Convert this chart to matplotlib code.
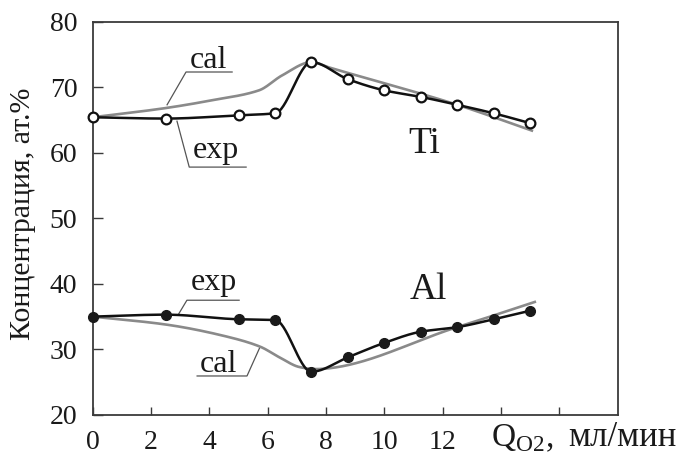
import numpy as np
import matplotlib
matplotlib.use("Agg")
import matplotlib.pyplot as plt

plt.rcParams['font.family'] = ['Liberation Serif', 'DejaVu Serif']
plt.rcParams['mathtext.fontset'] = 'custom'
plt.rcParams['mathtext.rm'] = 'Liberation Serif'

# ---- data ----
x_exp = [0, 2.5, 5, 6.25, 7.5, 8.75, 10, 11.25, 12.5, 13.75, 15]
ti_exp = [65.4, 65.2, 65.7, 66.0, 73.8, 71.2, 69.5, 68.5, 67.3, 66.0, 64.5]
al_exp = [35.0, 35.3, 34.6, 34.5, 26.6, 28.8, 31.0, 32.7, 33.4, 34.6, 35.9]

ti_cal_x = [0, 2.5, 4.1, 5.7, 6.5, 7.5, 8.1, 12.5, 15.1]
ti_cal_y = [65.4, 66.8, 68.0, 69.5, 71.8, 73.8, 73.0, 67.3, 63.3]
al_cal_x = [0, 2.5, 4.65, 5.75, 6.4, 7.1, 7.6, 12.5, 15.2]
al_cal_y = [35.0, 33.8, 31.9, 30.4, 28.8, 27.3, 27.0, 33.4, 37.3]

x_ticks = [0, 2, 4, 6, 8, 10, 12, 14, 16]
x_ticklabels = ['0', '2', '4', '6', '8', '10', '12', '', '']
y_ticks = [20, 30, 40, 50, 60, 70, 80]


def pchip(x, y, n=400):
    x = np.asarray(x, float)
    y = np.asarray(y, float)
    h = np.diff(x)
    d = np.diff(y) / h
    m = np.zeros_like(y)
    for k in range(1, len(x) - 1):
        if d[k - 1] * d[k] <= 0:
            m[k] = 0.0
        else:
            w1 = 2 * h[k] + h[k - 1]
            w2 = h[k] + 2 * h[k - 1]
            m[k] = (w1 + w2) / (w1 / d[k - 1] + w2 / d[k])
    m[0] = d[0]
    m[-1] = d[-1]
    xs = np.linspace(x[0], x[-1], n)
    idx = np.clip(np.searchsorted(x, xs) - 1, 0, len(x) - 2)
    t = (xs - x[idx]) / h[idx]
    h00 = 2 * t**3 - 3 * t**2 + 1
    h10 = t**3 - 2 * t**2 + t
    h01 = -2 * t**3 + 3 * t**2
    h11 = t**3 - t**2
    ys = h00 * y[idx] + h10 * h[idx] * m[idx] + h01 * y[idx + 1] + h11 * h[idx] * m[idx + 1]
    return xs, ys


fig = plt.figure(figsize=(6.81, 4.59), dpi=100)
ax = fig.add_axes([92.7 / 681, 1 - 415 / 459, (617.7 - 92.7) / 681, (415 - 21.5) / 459])

gray = '#8a8a8a'
black = '#111111'

# calculated curves
for cx, cy in [(ti_cal_x, ti_cal_y), (al_cal_x, al_cal_y)]:
    xs, ys = pchip(cx, cy)
    ax.plot(xs, ys, color=gray, lw=1.9, zorder=2, solid_capstyle='butt')

# experimental curves
xs, ys = pchip(x_exp, ti_exp)
ax.plot(xs, ys, color=black, lw=1.8, zorder=3)
ax.plot(x_exp, ti_exp, 'o', ms=7, mfc='white', mec=black, mew=1.6, zorder=4, clip_on=False)
xs, ys = pchip(x_exp, al_exp)
ax.plot(xs, ys, color=black, lw=1.8, zorder=3)
ax.plot(x_exp, al_exp, 'o', ms=7, mfc='#1a1a1a', mec='#1a1a1a', mew=1.0, zorder=4, clip_on=False)

ax.set_xlim(0, 18)
ax.set_ylim(20, 80)
ax.set_xticks(x_ticks)
ax.set_xticklabels(x_ticklabels)
ax.set_yticks(y_ticks)
ax.set_yticklabels([str(v) for v in y_ticks])

spc = '#3a3a3a'
for s in ax.spines.values():
    s.set_color(spc)
    s.set_linewidth(1.3)
ax.tick_params(axis='both', direction='in', colors=spc, labelcolor='#1a1a1a',
               labelsize=20, width=1.0)
ax.tick_params(axis='y', length=7, pad=11)
ax.tick_params(axis='x', length=6, pad=11)

# annotations with leader lines
lc = '#555555'
llw = 0.9
txt_kw = dict(fontsize=23, color='#1a1a1a', ha='center', va='baseline')

# Ti cal
ax.text(3.96, 72.9, 'cal', **txt_kw)
ax.plot([2.55, 3.2, 4.78], [67.3, 72.3, 72.3], color=lc, lw=llw, zorder=1)
# Ti exp
ax.text(4.23, 59.2, 'exp', **txt_kw)
ax.plot([2.89, 3.31, 5.26], [64.8, 57.8, 57.8], color=lc, lw=llw, zorder=1)
# Al exp
ax.text(4.16, 39.05, 'exp', **txt_kw)
ax.plot([2.92, 3.23, 5.02], [35.2, 37.5, 37.5], color=lc, lw=llw, zorder=1)
# Al cal
ax.text(4.30, 26.55, 'cal', **txt_kw)
ax.plot([3.58, 5.29, 5.74], [25.95, 25.95, 30.4], color=lc, lw=llw, zorder=1)

ax.text(11.36, 59.9, 'Ti', fontsize=27, color='#1a1a1a', ha='center', va='baseline')
ax.text(11.51, 37.7, 'Al', fontsize=27, color='#1a1a1a', ha='center', va='baseline')

fig.text(491 / 681, 1 - 446 / 459, r'Q$_{\mathrm{O2}}$', fontsize=24,
         color='#1a1a1a', ha='left', va='baseline')
fig.text(546 / 681, 1 - 446 / 459, ',', fontsize=24,
         color='#1a1a1a', ha='left', va='baseline')
fig.text(677 / 681, 1 - 446 / 459, 'мл/мин', fontsize=25,
         color='#1a1a1a', ha='right', va='baseline')
fig.text(23 / 681, 1 - 214 / 459, 'Концентрация, ат.%', fontsize=21.5,
         color='#1a1a1a', rotation=90, ha='center', va='center')

fig.savefig('out.png', dpi=100, facecolor='white')
